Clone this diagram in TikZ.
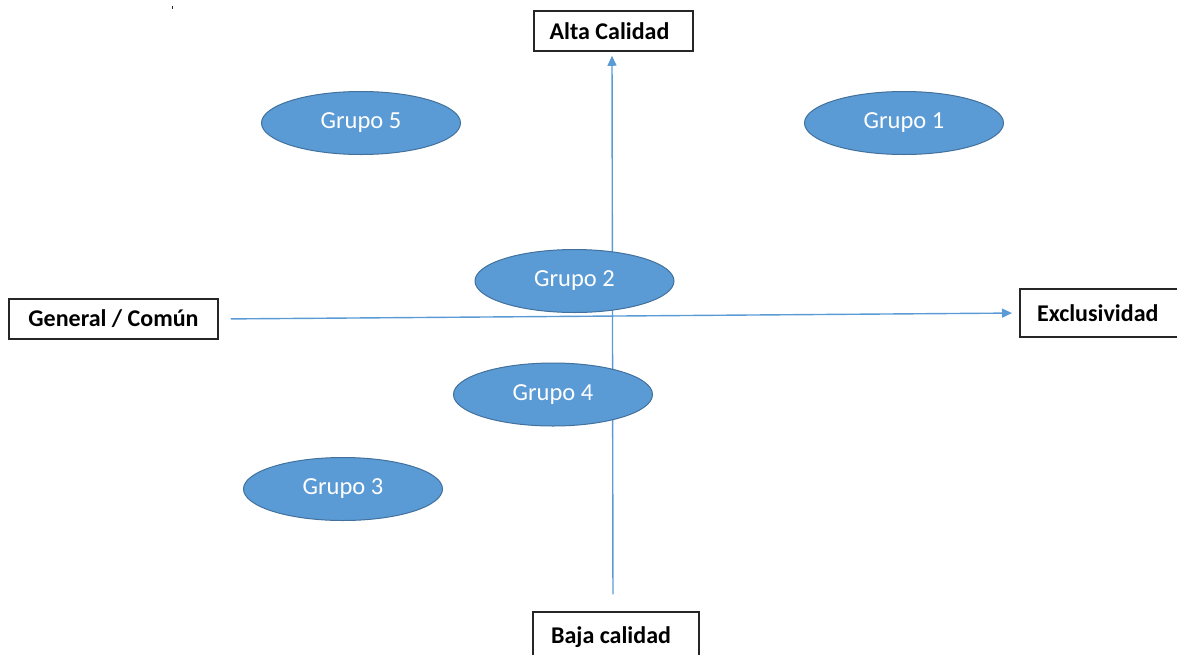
\documentclass[tikz,border=0pt]{standalone}
\usepackage{fontspec}
\setmainfont{Carlito}
\usetikzlibrary{arrows.meta,shapes.geometric}
\definecolor{axisblue}{HTML}{5B9BD5}
\definecolor{groupfill}{HTML}{5B9BD5}
\definecolor{groupedge}{HTML}{41719C}
\definecolor{boxedge}{HTML}{262626}
\tikzset{
  axislabel/.style={draw=boxedge, line width=1.5pt, fill=white, rectangle,
    inner sep=0pt, minimum height=40pt,
    font=\fontsize{24}{28}\selectfont\bfseries, text=black},
  group/.style={ellipse, draw=groupedge, line width=1pt, fill=groupfill,
    minimum width=199pt, minimum height=63pt, inner sep=0pt,
    font=\fontsize{24.5}{28}\selectfont, text=white},
  axisline/.style={draw=axisblue, line width=1.4pt,
    -{Triangle[length=10pt,width=9pt]}},
}
\begin{document}
\begin{tikzpicture}[x=1pt,y=-1pt]
  \useasboundingbox (0,0) rectangle (1177,654);
  \clip (0,0) rectangle (1177,654);

  % axis labels
  \node[axislabel, minimum width=159pt] (alta) at (613.5,31) {\hspace*{-8pt}Alta Calidad};
  \node[axislabel, minimum width=209pt] (gen) at (113.5,319) {General / Común};
  \node[axislabel, minimum width=170pt, minimum height=48pt, anchor=west]
    (excl) at (1019,313) {\hspace*{-14pt}Exclusividad};
  \node[axislabel, minimum width=166pt, minimum height=50pt] (baja) at (616,637) {\hspace*{-10pt}Baja calidad};

  % stray mark in the top-left corner
  \fill[boxedge] (171.5,5.5) rectangle (173,9);

  % axes
  \draw[axisline, shorten <=17pt, shorten >=4pt] (baja.north -| 613,0) -- (alta.south -| 612,0);
  \draw[axisline, shorten <=12pt, shorten >=7pt] (gen.east) -- (excl.west);

  % groups
  \node[group] (g5) at (361,123) {Grupo 5};
  \node[group] (g1) at (904,123) {Grupo 1};
  \node[group] (g2) at (574.5,281) {Grupo 2};
  \node[group] (g4) at (553,394.5) {Grupo 4};
  \node[group] (g3) at (343,489) {Grupo 3};
\end{tikzpicture}
\end{document}
